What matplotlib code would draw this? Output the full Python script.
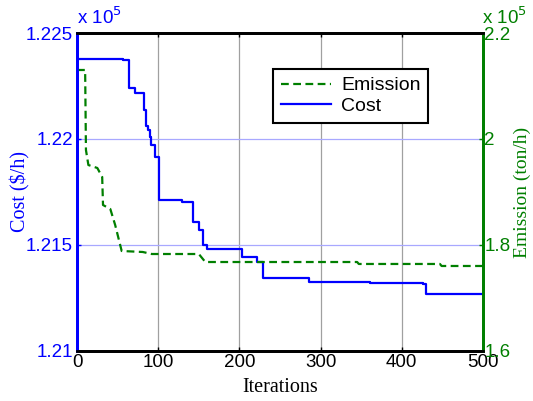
import matplotlib.pyplot as plt

# Cost curve vertices (iteration, cost in 1e5 $/h), stepwise
cost_iter = [0, 57, 57, 64, 64, 71, 71, 83, 83, 85, 85, 87, 87, 90, 90, 91, 91, 96, 96,
             101, 101, 129, 129, 143, 143, 150, 150, 155, 155, 160, 160, 203, 203,
             222, 222, 229, 229, 286, 286, 361, 361, 426, 426, 430, 430, 500]
cost_val = [1.22377, 1.22377, 1.22372, 1.22372, 1.22241, 1.22241, 1.22217, 1.22217,
            1.22137, 1.22137, 1.22061, 1.22061, 1.22042, 1.22042, 1.22009, 1.22009,
            1.21972, 1.21972, 1.21915, 1.21915, 1.21712, 1.21712, 1.21703, 1.21703,
            1.21608, 1.21608, 1.21571, 1.21571, 1.21500, 1.21500, 1.21481, 1.21481,
            1.21443, 1.21443, 1.21420, 1.21420, 1.21344, 1.21344, 1.21325, 1.21325,
            1.21321, 1.21321, 1.21315, 1.21315, 1.21269, 1.21269]

# Emission curve vertices (iteration, emission in 1e5 ton/h)
em_iter = [0, 10, 11, 14, 25, 31, 32, 41, 47, 55, 81, 92, 150, 158, 345, 347, 447, 449, 500]
em_val = [2.1302, 2.1302, 1.9792, 1.9509, 1.9453, 1.9283, 1.8755, 1.8679, 1.8377,
          1.7887, 1.7868, 1.7830, 1.7830, 1.7679, 1.7679, 1.7642, 1.7642, 1.7604, 1.7604]

x_ticks = [0, 100, 200, 300, 400, 500]
cost_ticks = [1.21, 1.215, 1.22, 1.225]
cost_tick_labels = ['1.21', '1.215', '1.22', '1.225']
em_ticks = [1.6, 1.8, 2.0, 2.2]
em_tick_labels = ['1.6', '1.8', '2', '2.2']

blue = '#0000ff'
green = '#007f00'
sans = 'Liberation Sans'
serif = 'Liberation Serif'
fs_tick = 13.5
fs_label = 14.5

fig = plt.figure(figsize=(5.33, 4.01), dpi=100)
ax = fig.add_axes([0.1445, 0.1247, 0.7617, 0.793])
ax2 = ax.twinx()

ax.plot(cost_iter, cost_val, color=blue, lw=1.6, label='Cost')
ax2.plot(em_iter, em_val, color=green, lw=1.6, ls=(0, (3.5, 2)), label='Emission')

ax.set_xlim(0, 500)
ax.set_ylim(1.21, 1.225)
ax2.set_ylim(1.6, 2.2)

ax.set_xticks(x_ticks)
ax.set_xticklabels([str(t) for t in x_ticks], fontname=sans, fontsize=fs_tick)
ax.set_yticks(cost_ticks)
ax.set_yticklabels(cost_tick_labels, fontname=sans, fontsize=fs_tick, color=blue)
ax2.set_yticks(em_ticks)
ax2.set_yticklabels(em_tick_labels, fontname=sans, fontsize=fs_tick, color=green)

ax.tick_params(direction='in', length=3, width=1, pad=2, top=True)
ax.tick_params(axis='y', colors=blue, labelcolor=blue, pad=3)
ax2.tick_params(direction='in', length=3, width=1, pad=1, colors=green, labelcolor=green)

# grid: gray vertical, light blue horizontal
for xv in x_ticks[1:-1]:
    ax.axvline(xv, color='#a0a0a0', lw=0.9, zorder=0)
for yv in cost_ticks[1:-1]:
    ax.axhline(yv, color='#a8a8ff', lw=0.9, zorder=0)

for a in (ax, ax2):
    for s in a.spines.values():
        s.set_linewidth(2)
    a.spines['top'].set_color('black')
    a.spines['bottom'].set_color('black')
    a.spines['left'].set_color(blue)
    a.spines['right'].set_color(green)

ax.set_xlabel('Iterations', fontname=serif, fontsize=fs_label, labelpad=5)
ax.set_ylabel('Cost ($/h)', fontname=serif, fontsize=fs_label, color=blue, labelpad=-3.5)
ax2.set_ylabel('Emission (ton/h)', fontname=serif, fontsize=14, color=green, labelpad=2)

ax.text(0.0, 1.015, r'x 10$^5$', transform=ax.transAxes, color=blue,
        fontname=sans, fontsize=13.5, ha='left', va='bottom')
ax2.text(0.998, 1.015, r'x 10$^5$', transform=ax2.transAxes, color=green,
         fontname=sans, fontsize=13.5, ha='left', va='bottom')

h1, l1 = ax.get_legend_handles_labels()
h2, l2 = ax2.get_legend_handles_labels()
leg = ax2.legend(h2 + h1, l2 + l1, loc='upper left', bbox_to_anchor=(0.483, 0.887),
                 prop={'family': sans, 'size': 14}, fancybox=False, framealpha=1,
                 edgecolor='black', handlelength=2.6, borderpad=0.4, labelspacing=0.15,
                 handletextpad=0.5, borderaxespad=0)
leg.get_frame().set_linewidth(1.5)

fig.savefig('out.png', dpi=100)
